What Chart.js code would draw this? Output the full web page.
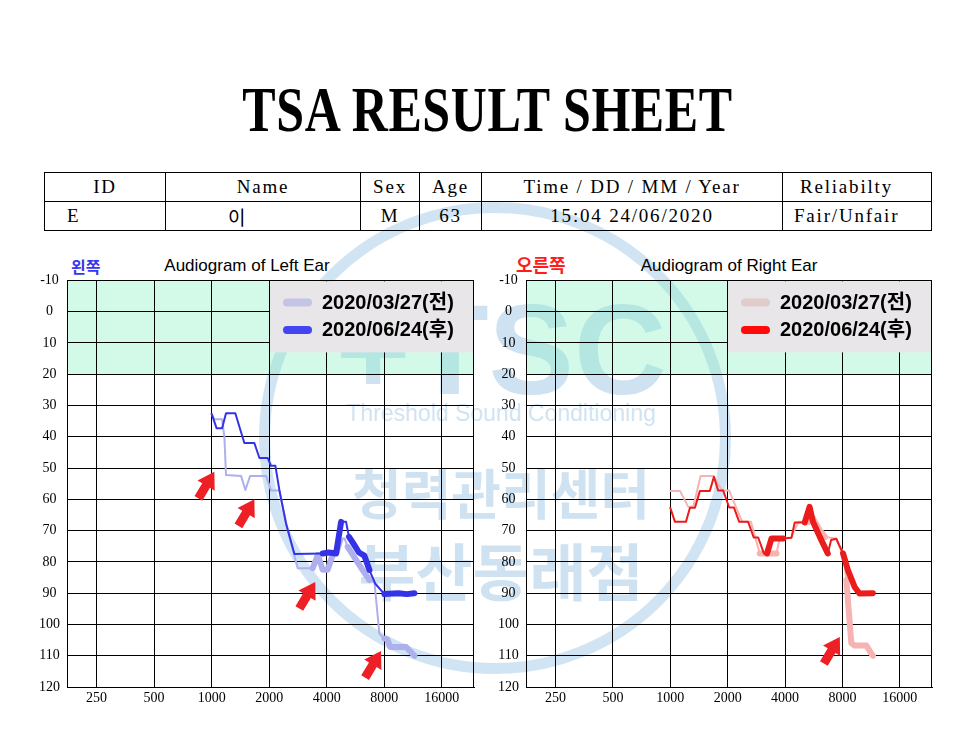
<!DOCTYPE html>
<html>
<head>
<meta charset="utf-8">
<script src="https://cdn.jsdelivr.net/npm/chart.js"></script>
<style>
  body { margin: 0; background: #fff; }
  #page { position: relative; width: 975px; height: 730px; overflow: hidden; background: #fff; }
  .abs { position: absolute; }
  #title { left: 0; width: 975px; top: 73px; text-align: center; font: bold 50px "Liberation Serif", serif; transform: scale(1, 1.27); transform-origin: 50% 0; color: #000; letter-spacing: 0.6px; }
  #info { left: 44px; top: 172px; border-collapse: collapse; font: 19px "Liberation Serif", "Noto Sans CJK KR", serif; letter-spacing: 1.8px; }
  #info td { border: 1px solid #000; padding: 0; height: 28px; text-align: center; white-space: nowrap; }
  .ctitle { font: 17px "Liberation Sans", sans-serif; color: #000; text-align: center; width: 300px; }
  .side { font-family: "Noto Sans CJK KR", sans-serif; font-weight: bold; }
  canvas { position: absolute; }
  #wm { left: 0; top: 0; width: 975px; height: 730px; pointer-events: none; color: rgba(120, 175, 220, 0.36); }
  #wm .ring { position: absolute; left: 259px; top: 202px; width: 472px; height: 472px; border-radius: 50%; border: 11px solid rgba(120, 175, 220, 0.34); box-sizing: border-box; }
  #wm div.t { position: absolute; left: 0; width: 1002px; text-align: center; white-space: nowrap; }
</style>
</head>
<body>
<div id="page">
  <div id="wm" class="abs">
    <div class="ring"></div>
    <div class="t" style="top:276px; font: bold 128px 'Liberation Sans', sans-serif">+TSC</div>
    <div class="t" style="top:400px; font: 23px 'Liberation Sans', sans-serif">Threshold Sound Conditioning</div>
    <div class="t" style="top:452px; font: bold 54px 'Noto Sans CJK KR', sans-serif">청력관리센터</div>
    <div class="t" style="top:524px; font: bold 62px 'Noto Sans CJK KR', sans-serif">부산동래점</div>
  </div>

  <div id="title" class="abs">TSA RESULT SHEET</div>
  <table id="info" class="abs">
    <tr>
      <td style="width:120px">ID</td>
      <td style="width:194px">Name</td>
      <td style="width:58px">Sex</td>
      <td style="width:61px">Age</td>
      <td style="width:300px">Time / DD / MM / Year</td>
      <td style="width:149px; text-align:left; padding-left:17px; box-sizing:border-box">Reliabilty</td>
    </tr>
    <tr>
      <td style="text-align:left; padding-left:22px">E</td>
      <td style="text-align:left; padding-left:62px">이</td>
      <td>M</td>
      <td>63</td>
      <td>15:04 24/06/2020</td>
      <td style="text-align:left; padding-left:11px">Fair/Unfair</td>
    </tr>
  </table>

  <div class="abs side" style="left:71px; top:254px; font-size:16px; color:#3636f0">왼쪽</div>
  <div class="abs ctitle" style="left:97px; top:256px">Audiogram of Left Ear</div>
  <div class="abs side" style="left:516px; top:251px; font-size:18px; color:#ff1c1c">오른쪽</div>
  <div class="abs ctitle" style="left:579px; top:256px">Audiogram of Right Ear</div>

  <canvas id="leftEar" width="470" height="447" style="left:10px; top:265px"></canvas>
  <canvas id="rightEar" width="470" height="447" style="left:468px; top:265px"></canvas>
</div>

<script>
// tick labels
var xTicks = [250, 500, 1000, 2000, 4000, 8000, 16000];
var xTickLabels = ["250", "500", "1000", "2000", "4000", "8000", "16000"];
var legendLabels = ["2020/03/27(전)", "2020/06/24(후)"];

// left ear - before (03/27)
var leftBeforeFreq = [1000, 1033, 1134, 1166, 1189, 1425, 1501, 1590, 1926, 2046, 2261, 2500, 2820, 3380, 3595, 3810, 4046, 4300, 4600, 4851, 4960, 5152, 6172, 6694, 7111, 7551, 8017, 8300, 8600, 10418, 11514];
var leftBeforeDb = [32.7, 34.4, 34.4, 40, 52.2, 52.5, 57, 52.5, 52.5, 57.2, 57.2, 69.8, 82, 82, 77.8, 82.5, 82.5, 77.8, 77.3, 72.5, 72.5, 75.2, 82.6, 85.8, 86.5, 103, 104.5, 104.8, 107.2, 107.2, 110];
// left ear - after (06/24)
var leftAfterFreq = [1000, 1062, 1134, 1189, 1330, 1483, 1673, 1778, 1965, 2046, 2155, 2261, 2449, 2711, 3812, 4100, 4480, 4757, 5050, 5235, 5500, 5900, 6300, 6694, 7170, 8017, 9500, 10500, 11514];
var leftAfterDb = [32.7, 37.3, 37.3, 32.5, 32.5, 42, 42, 46.8, 46.8, 49.3, 49.3, 57, 67.7, 77.5, 77.3, 77, 77.3, 67.2, 67.2, 72, 74, 77, 78, 82.6, 86.9, 90.3, 90, 90.3, 90];

// right ear - before (03/27)
var rightBeforeFreq = [1000, 1124, 1243, 1320, 1443, 1679, 1872, 2037, 2382, 2650, 2947, 3608, 3750, 4300, 4700, 5300, 5600, 6100, 6500, 7430, 8060, 8386, 8906, 9268, 10670, 11336, 11556];
var rightBeforeDb = [57.3, 57.3, 62.4, 62.4, 52.5, 52.5, 57.2, 57.2, 67.2, 67.2, 77.3, 77.3, 72.3, 72.3, 67.2, 67.2, 66, 70, 72, 72.6, 77, 85.8, 106, 106.7, 106.7, 109.3, 110];
// right ear - after (06/24)
var rightAfterFreq = [1000, 1058, 1208, 1268, 1347, 1430, 1612, 1694, 1783, 1895, 2037, 2156, 2299, 2561, 2740, 2892, 3096, 3218, 3398, 3906, 4322, 4495, 5075, 5380, 5605, 6086, 6703, 6980, 7430, 7673, 8057, 8543, 9268, 9830, 11556];
var rightAfterDb = [62.7, 67.2, 67.2, 62.7, 62.7, 57.3, 57.3, 52.8, 57.2, 57.2, 62.6, 62.6, 67.2, 67.2, 72.2, 72.2, 77.3, 77.3, 72.5, 72.5, 72.3, 67.4, 67.4, 62.4, 67.2, 72, 77.3, 73, 72.6, 74.6, 77.3, 82.6, 88, 90.1, 90];

// red arrows: tip at [freq, dB]
var leftArrows = [[1033, 51.2], [1673, 60], [3485, 86.4], [7700, 108.5]];
var rightArrows = [[7750, 104]];

// frequency ranges drawn with a heavy stroke
var heavy = {
  leftBefore: [[3300, 4400], [5100, 6700], [8000, 11600]],
  leftAfter: [[3812, 4760], [5235, 6700], [8017, 11600]],
  rightBefore: [[2900, 3650], [5200, 6500], [8300, 11600]],
  rightAfter: [[3218, 3910], [5075, 6703], [8057, 11600]]
};

Chart.defaults.font.family = "'Liberation Serif', serif";
Chart.defaults.font.size = 14;
Chart.defaults.color = "#000";

function pts(fs, ds) {
  return fs.map(function (f, i) { return { x: f, y: ds[i] }; });
}

function widthFor(ranges, thick) {
  return function (c) {
    var mid = (c.p0.parsed.x + c.p1.parsed.x) / 2;
    for (var i = 0; i < ranges.length; i++) {
      if (mid >= ranges[i][0] && mid <= ranges[i][1]) return thick;
    }
    return 2;
  };
}

// green normal band (see-through, watermark sits underneath) + frame
var bandPlugin = {
  id: "band",
  beforeDraw: function (chart) {
    var a = chart.chartArea, y = chart.scales.y, ctx = chart.ctx;
    ctx.save();
    ctx.fillStyle = "rgba(140, 238, 196, 0.38)";
    ctx.fillRect(a.left, y.getPixelForValue(-10), a.right - a.left, y.getPixelForValue(20) - y.getPixelForValue(-10));
    ctx.restore();
  },
  afterDraw: function (chart) {
    var a = chart.chartArea, ctx = chart.ctx;
    ctx.save();
    ctx.strokeStyle = "#000";
    ctx.lineWidth = 1;
    ctx.strokeRect(Math.round(a.left) + 0.5, Math.round(a.top) + 0.5, Math.round(a.right - a.left) - 1, Math.round(a.bottom - a.top));
    ctx.restore();
  }
};

// legend box in top right corner
var boxLegendPlugin = {
  id: "boxLegend",
  afterDatasetsDraw: function (chart, args, opts) {
    var a = chart.chartArea, ctx = chart.ctx;
    var w = opts.width, h = 71;
    var x0 = a.right - w, y0 = a.top + 1;
    ctx.save();
    ctx.fillStyle = "#e8e6e8";
    ctx.fillRect(x0, y0, w, h);
    ctx.font = "bold 20px 'Liberation Sans', 'Noto Sans CJK KR', sans-serif";
    ctx.textBaseline = "middle";
    ctx.lineCap = "round";
    for (var i = 0; i < legendLabels.length; i++) {
      var cy = y0 + 21 + i * 27.5;
      ctx.strokeStyle = opts.colors[i];
      ctx.lineWidth = 8;
      ctx.beginPath();
      ctx.moveTo(x0 + 17, cy);
      ctx.lineTo(x0 + 38, cy);
      ctx.stroke();
      ctx.fillStyle = "#000";
      ctx.fillText(legendLabels[i], x0 + 52, cy + 1);
    }
    ctx.restore();
  }
};

// red block arrows pointing at the curve
var arrowPlugin = {
  id: "arrows",
  afterDatasetsDraw: function (chart, args, opts) {
    var ctx = chart.ctx, xs = chart.scales.x, ys = chart.scales.y;
    var dx = 15, dy = -25, len = Math.sqrt(dx * dx + dy * dy);
    var ux = dx / len, uy = dy / len, nx = -uy, ny = ux;
    ctx.save();
    ctx.fillStyle = "#ee2026";
    opts.tips.forEach(function (t) {
      var px = xs.getPixelForValue(t[0]), py = ys.getPixelForValue(t[1]);
      var L = 31, H = 16, hw = 10, sw = 4.5;
      function p(along, side) { return [px - ux * along + nx * side, py - uy * along + ny * side]; }
      var shape = [p(0, 0), p(H, hw), p(H, sw), p(L, sw), p(L, -sw), p(H, -sw), p(H, -hw)];
      ctx.beginPath();
      ctx.moveTo(shape[0][0], shape[0][1]);
      for (var i = 1; i < shape.length; i++) ctx.lineTo(shape[i][0], shape[i][1]);
      ctx.closePath();
      ctx.fill();
    });
    ctx.restore();
  }
};

function makeChart(id, before, after, colors, legendColors, heavyBefore, heavyAfter, tips, axisWidth) {
  return new Chart(document.getElementById(id), {
    type: "line",
    data: {
      datasets: [
        {
          label: legendLabels[0],
          data: before,
          borderColor: colors[0],
          borderWidth: 2,
          pointRadius: 0,
          tension: 0,
          borderJoinStyle: "round",
          borderCapStyle: "round",
          order: 1,
          segment: { borderWidth: widthFor(heavyBefore, 6) }
        },
        {
          label: legendLabels[1],
          data: after,
          borderColor: colors[1],
          borderWidth: 2,
          pointRadius: 0,
          tension: 0,
          borderJoinStyle: "round",
          borderCapStyle: "round",
          order: 0,
          segment: { borderWidth: widthFor(heavyAfter, 6) }
        }
      ]
    },
    options: {
      responsive: false,
      animation: false,
      layout: { padding: { top: 10, right: 6, left: 0, bottom: 0 } },
      scales: {
        x: {
          type: "logarithmic",
          min: 175,
          max: 23600,
          afterBuildTicks: function (s) { s.ticks = xTicks.map(function (v) { return { value: v }; }); },
          afterFit: function (s) { s.height = 25; },
          grid: { color: "#000", lineWidth: 1, drawTicks: false },
          border: { color: "#000" },
          ticks: {
            autoSkip: false,
            maxRotation: 0,
            padding: 3,
            callback: function (v, i) { return xTickLabels[i]; }
          }
        },
        y: {
          reverse: true,
          min: -10,
          max: 120,
          afterFit: function (s) { s.width = axisWidth; },
          grid: { color: "#000", lineWidth: 1, drawTicks: false },
          border: {
            color: "#000",
            dash: function (c) { return (c.tick && c.tick.value % 10 !== 0) ? [4, 3] : []; }
          },
          ticks: {
            stepSize: 5,
            padding: 7,
            crossAlign: "center",
            callback: function (v) { return v % 10 === 0 ? String(v) : ""; }
          }
        }
      },
      plugins: {
        legend: { display: false },
        tooltip: { enabled: false },
        boxLegend: { width: 204, colors: legendColors },
        arrows: { tips: tips }
      }
    },
    plugins: [bandPlugin, boxLegendPlugin, arrowPlugin]
  });
}

makeChart("leftEar",
  pts(leftBeforeFreq, leftBeforeDb), pts(leftAfterFreq, leftAfterDb),
  ["#aeb0ee", "#3434e6"], ["#c4c4e6", "#4444f2"],
  heavy.leftBefore, heavy.leftAfter, leftArrows, 57);

makeChart("rightEar",
  pts(rightBeforeFreq, rightBeforeDb), pts(rightAfterFreq, rightAfterDb),
  ["#f7b2b2", "#ea1c1c"], ["#e2cbcb", "#ff0a0a"],
  heavy.rightBefore, heavy.rightAfter, rightArrows, 58);
</script>
</body>
</html>
